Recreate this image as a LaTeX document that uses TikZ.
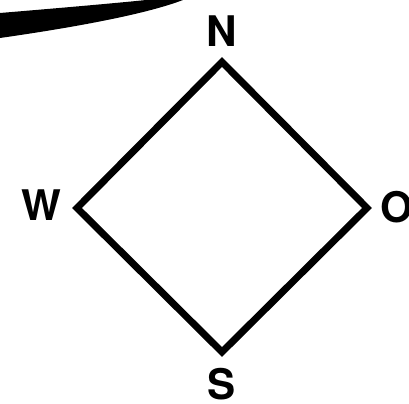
\documentclass[tikz,border=0pt]{standalone}
\usepackage{fontspec}
\setmainfont{TeX Gyre Heros}

\begin{document}
\begin{tikzpicture}[
  x=0.02cm, y=-0.02cm,
  side/.style={line width=7*0.02cm, draw=black, line join=miter},
  compass/.style={font=\fontsize{24}{28}\selectfont\bfseries, inner sep=0pt}
]
  \useasboundingbox (0,0) rectangle (409,404);
  \clip (0,0) rectangle (409,404);

  % stroke left over from the page above
  \fill[black] (0,13) .. controls (60,8) and (130,2) .. (165,-2)
    -- (188,-2) .. controls (150,14) and (70,28) .. (0,38) -- cycle;

  \coordinate (top) at (222,62);
  \coordinate (left) at (77,208);
  \coordinate (right) at (367,208);
  \coordinate (bottom) at (222,352);

  \draw[side] (top) -- (right) -- (bottom) -- (left) -- cycle;

  \node[compass] (north) at (222,31) {N};
  \node[compass] (west) at (41,205) {W};
  \node[compass] (east) at (397,207) {O};
  \node[compass] (south) at (222,384) {S};
\end{tikzpicture}
\end{document}
